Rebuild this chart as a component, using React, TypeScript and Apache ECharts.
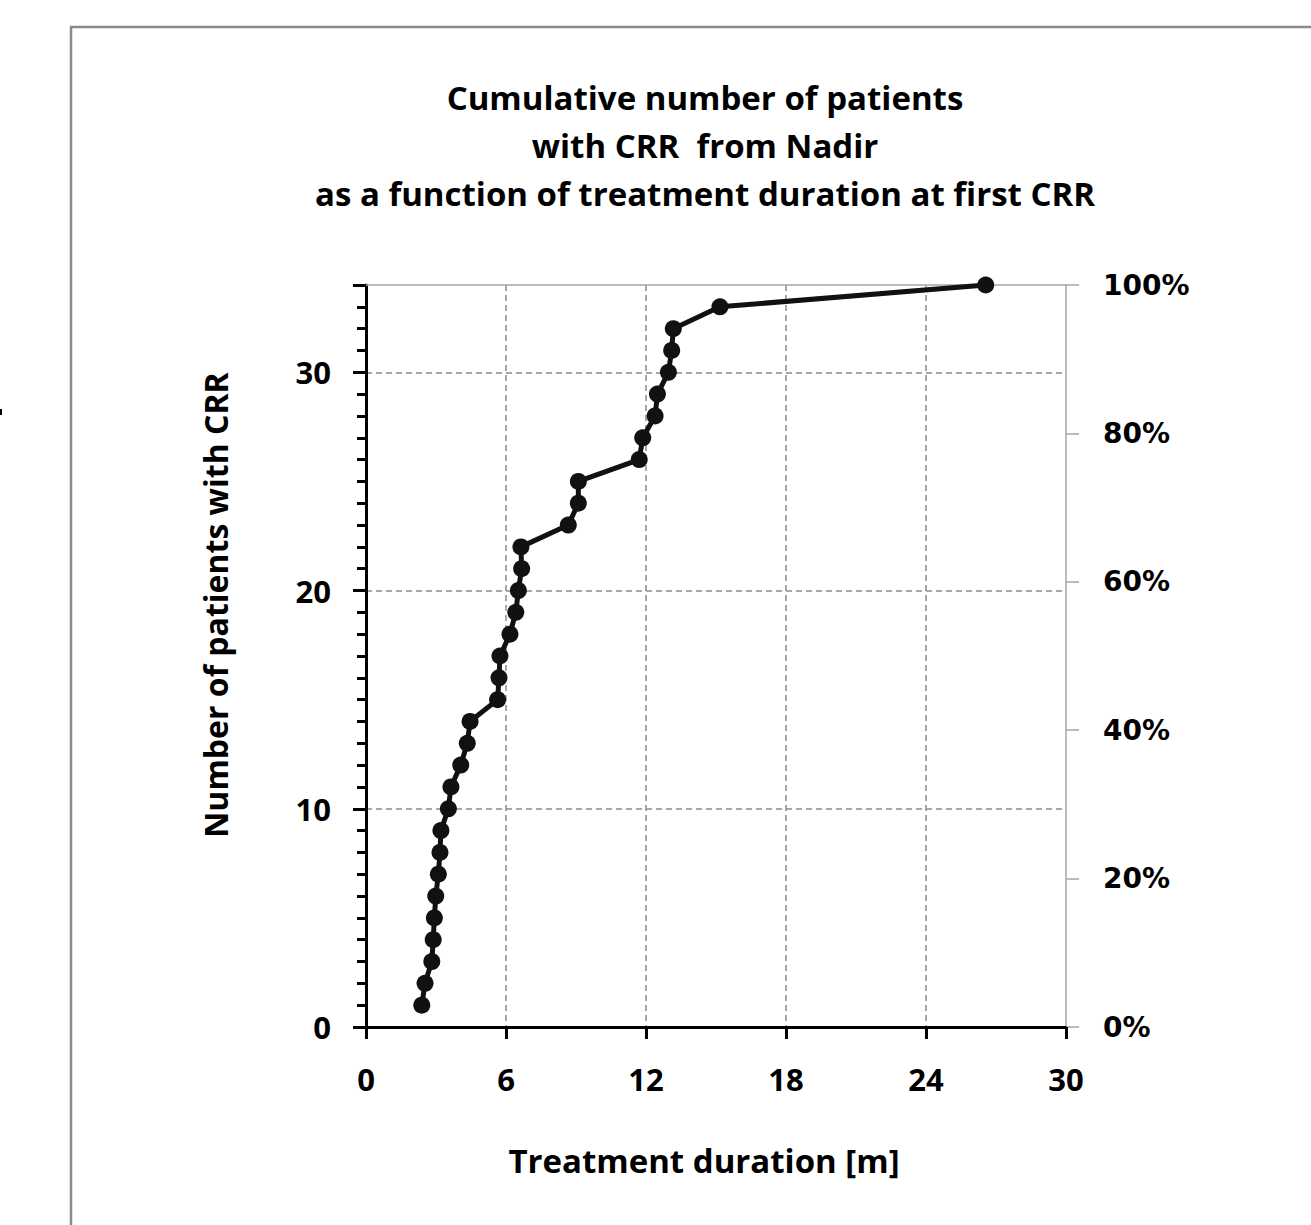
import React, { useEffect, useRef } from "react";
import * as echarts from "echarts";

// Treatment duration [m] at first CRR, one per patient (cumulative count 1..34)
const durations = [
  2.39, 2.53, 2.82, 2.88, 2.93, 2.99, 3.1, 3.17, 3.21, 3.53,
  3.64, 4.06, 4.34, 4.46, 5.64, 5.7, 5.74, 6.17, 6.42, 6.53,
  6.67, 6.64, 8.67, 9.1, 9.1, 11.71, 11.86, 12.39, 12.49, 12.96,
  13.1, 13.17, 15.17, 26.56,
];
const cumulativePatients = [
  1, 2, 3, 4, 5, 6, 7, 8, 9, 10,
  11, 12, 13, 14, 15, 16, 17, 18, 19, 20,
  21, 22, 23, 24, 25, 26, 27, 28, 29, 30,
  31, 32, 33, 34,
];
const titleLines = [
  "Cumulative number of patients",
  "with CRR  from Nadir",
  "as a function of treatment duration at first CRR",
];
const xAxisName = "Treatment duration [m]";
const yAxisName = "Number of patients with CRR";
const xRange = [0, 30];
const xStep = 6;
const yRange = [0, 34];
const yStep = 10;
const pctRange = [0, 100];
const pctStep = 20;

const FONT = "'Open Sans', sans-serif";

export default function App() {
  const ref = useRef<HTMLDivElement>(null);
  useEffect(() => {
    if (!ref.current) return;
    const chart = echarts.init(ref.current, null, { renderer: "svg" });
    const data = durations.map((d, i) => [d, cumulativePatients[i]]);
    const dashed = { color: "#8c8c8c", width: 1.5, type: [6, 4] as any };
    chart.setOption({
      animation: false,
      backgroundColor: "#ffffff",
      grid: { left: 366, top: 285, width: 700, height: 742, containLabel: false },
      graphic: [
        {
          type: "rect",
          shape: { x: 71, y: 27, width: 1300, height: 1260 },
          style: { fill: "none", stroke: "#8a8a8a", lineWidth: 2.5 },
          silent: true,
        },
        {
          type: "rect",
          shape: { x: 0, y: 409, width: 2, height: 6 },
          style: { fill: "#000" },
          silent: true,
        },
        ...titleLines.map((t, i) => ({
          type: "text",
          x: 705,
          y: 97 + i * 48,
          style: {
            text: t,
            fill: "#000",
            font: `bold 33px ${FONT}`,
            textAlign: "center",
            textVerticalAlign: "middle",
          },
        })),
        {
          type: "text",
          x: 215,
          y: 605,
          rotation: Math.PI / 2,
          style: {
            text: yAxisName,
            fill: "#000",
            font: `bold 32px ${FONT}`,
            textAlign: "center",
            textVerticalAlign: "middle",
          },
        },
        {
          type: "text",
          x: 704,
          y: 1160,
          style: {
            text: xAxisName,
            fill: "#000",
            font: `bold 33px ${FONT}`,
            textAlign: "center",
            textVerticalAlign: "middle",
          },
        },
      ],
      xAxis: [
        {
          type: "value",
          min: xRange[0],
          max: xRange[1],
          interval: xStep,
          axisLine: { show: true, onZero: false, lineStyle: { color: "#000", width: 3 } },
          axisTick: { show: true, inside: false, length: 12, lineStyle: { color: "#000", width: 3 } },
          axisLabel: { color: "#000", fontFamily: FONT, fontWeight: "bold", fontSize: 31, margin: 36 },
          splitLine: { show: true, showMinLine: false, showMaxLine: false, lineStyle: dashed },
        },
        {
          type: "value",
          position: "top",
          min: xRange[0],
          max: xRange[1],
          interval: xStep,
          axisLine: { show: true, onZero: false, lineStyle: { color: "#a6a6a6", width: 1.5 } },
          axisTick: { show: false },
          axisLabel: { show: false },
          splitLine: { show: false },
        },
      ],
      yAxis: [
        {
          type: "value",
          min: yRange[0],
          max: yRange[1],
          interval: yStep,
          axisLine: { show: true, onZero: false, lineStyle: { color: "#000", width: 3 } },
          axisTick: { show: true, inside: false, length: 13, lineStyle: { color: "#000", width: 3 } },
          minorTick: { show: true, splitNumber: 10, length: 9, lineStyle: { color: "#000", width: 3 } },
          axisLabel: {
            color: "#000",
            fontFamily: FONT,
            fontWeight: "bold",
            fontSize: 31,
            margin: 35,
            showMaxLabel: false,
          },
          splitLine: { show: true, showMinLine: false, showMaxLine: false, lineStyle: dashed },
        },
        {
          type: "value",
          position: "right",
          min: pctRange[0],
          max: pctRange[1],
          interval: pctStep,
          axisLine: { show: true, onZero: false, lineStyle: { color: "#a6a6a6", width: 1.5 } },
          axisTick: { show: true, inside: false, length: 13, lineStyle: { color: "#a6a6a6", width: 1.5 } },
          axisLabel: {
            color: "#000",
            fontFamily: "'DejaVu Sans', sans-serif",
            fontWeight: "bold",
            fontSize: 28,
            margin: 37,
            formatter: "{value}%",
          },
          splitLine: { show: false },
        },
      ],
      series: [
        {
          type: "line",
          xAxisIndex: 0,
          yAxisIndex: 0,
          data,
          symbol: "circle",
          symbolSize: 17,
          itemStyle: { color: "#111" },
          lineStyle: { color: "#111", width: 5 },
          z: 5,
        },
      ],
    });
    return () => chart.dispose();
  }, []);
  return (
    <div
      ref={ref}
      style={{ position: "absolute", left: 0, top: 0, width: 1311, height: 1225 }}
    />
  );
}
